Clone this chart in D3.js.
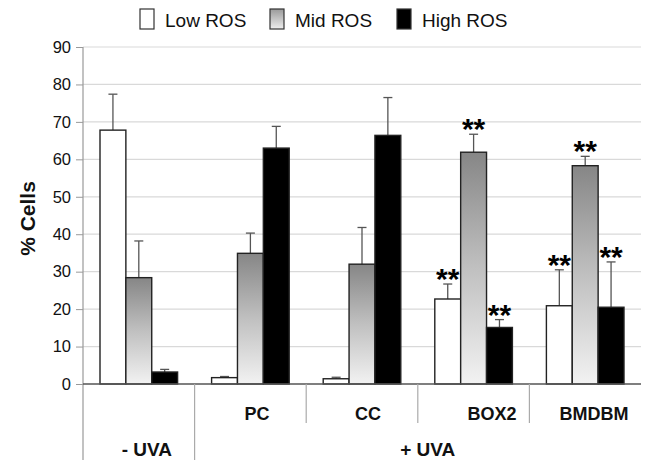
<!DOCTYPE html>
<html><head><meta charset="utf-8">
<script src="https://cdn.jsdelivr.net/npm/d3@7"></script>
<style>body{margin:0;background:#fff}svg{display:block}text{font-family:"Liberation Sans",Arial,sans-serif}</style>
</head><body>
<svg id="c" width="645" height="460"></svg>
<script>
const groups = ["-UVA","PC","CC","BOX2","BMDBM"];
const groupLabels = ["","PC","CC","BOX2","BMDBM"];
const series = ["Low ROS","Mid ROS","High ROS"];
const lowVals  = [67.8, 1.7, 1.4, 22.7, 20.9];
const midVals  = [28.4, 34.9, 32.0, 61.9, 58.3];
const highVals = [3.2, 63.0, 66.4, 15.1, 20.5];
const lowErr   = [9.6, 0.3, 0.4, 4.0, 9.6];
const midErr   = [9.8, 5.4, 9.8, 4.8, 2.5];
const highErr  = [0.7, 5.8, 10.1, 2.1, 12.1];
const lowSig   = [false,false,false,true,true];
const midSig   = [false,false,false,true,true];
const highSig  = [false,false,false,true,true];
const yTicks = [0,10,20,30,40,50,60,70,80,90];

const svg = d3.select("#c");
const mLeft=83, mRight=641, mTop=47, mBottom=384;
const y = d3.scaleLinear().domain([0,90]).range([mBottom,mTop]);
const x0 = d3.scaleBand().domain(groups).range([mLeft,mRight]).padding(0);
const bw = x0.bandwidth();
const x1 = d3.scaleBand().domain(series).range([17, bw-17]).padding(0);

const defs = svg.append("defs");
const g = defs.append("linearGradient").attr("id","mid").attr("x1",0).attr("y1",0).attr("x2",0).attr("y2",1);
g.append("stop").attr("offset","0%").attr("stop-color","#868686");
g.append("stop").attr("offset","50%").attr("stop-color","#c0c0c0");
g.append("stop").attr("offset","100%").attr("stop-color","#f2f2f2");
const gl = defs.append("linearGradient").attr("id","midLeg").attr("x1",0).attr("y1",0).attr("x2",0).attr("y2",1);
gl.append("stop").attr("offset","0%").attr("stop-color","#9a9a9a");
gl.append("stop").attr("offset","100%").attr("stop-color","#eeeeee");

// grid
svg.append("g").selectAll("line").data(yTicks.filter(d=>d>0)).join("line")
  .attr("x1",mLeft).attr("x2",mRight).attr("y1",d=>y(d)).attr("y2",d=>y(d))
  .attr("stroke","#d9d9d9").attr("stroke-width",1.2);

// y axis
const ya = svg.append("g").attr("transform",`translate(${mLeft},0)`)
  .call(d3.axisLeft(y).tickValues(yTicks).tickSize(7).tickPadding(5));
ya.select(".domain").remove();
ya.selectAll(".tick line").attr("stroke","#999");
ya.selectAll(".tick text").attr("font-size",16.5).attr("fill","#111").attr("font-family","Liberation Sans, Arial, sans-serif");
svg.append("line").attr("x1",mLeft).attr("x2",mLeft).attr("y1",mTop).attr("y2",460).attr("stroke","#999").attr("stroke-width",1.2);

// y label
svg.append("text").attr("transform",`translate(35,${(mTop+mBottom)/2+3}) rotate(-90)`)
  .attr("text-anchor","middle").attr("font-size",21).attr("font-weight","bold").attr("fill","#111").text("% Cells");

// bars
const data = [];
groups.forEach((gr,i)=>{
  [[lowVals,lowErr,lowSig],[midVals,midErr,midSig],[highVals,highErr,highSig]].forEach((arr,j)=>{
    data.push({g:gr,s:series[j],v:arr[0][i],e:arr[1][i],sig:arr[2][i],j});
  });
});
const fills = ["#ffffff","url(#mid)","#000000"];
const bg = svg.append("g");
bg.selectAll("g.err").data(data).join("g").attr("class","err").each(function(d){
  const cx = x0(d.g)+x1(d.s)+x1.bandwidth()/2;
  const s = d3.select(this);
  s.append("line").attr("x1",cx).attr("x2",cx).attr("y1",y(d.v)).attr("y2",y(d.v+d.e)).attr("stroke","#555").attr("stroke-width",1.3);
  s.append("line").attr("x1",cx-4.5).attr("x2",cx+4.5).attr("y1",y(d.v+d.e)).attr("y2",y(d.v+d.e)).attr("stroke","#555").attr("stroke-width",1.3);
});
bg.selectAll("rect").data(data).join("rect")
  .attr("x",d=>x0(d.g)+x1(d.s)).attr("width",x1.bandwidth())
  .attr("y",d=>y(d.v)).attr("height",d=>y(0)-y(d.v))
  .attr("fill",d=>fills[d.j]).attr("stroke","#222").attr("stroke-width",1.4);
bg.selectAll("text.sig").data(data.filter(d=>d.sig)).join("text").attr("class","sig")
  .attr("x",d=>x0(d.g)+x1(d.s)+x1.bandwidth()/2).attr("y",d=>y(d.v+d.e)+5)
  .attr("text-anchor","middle").attr("font-size",30).attr("font-weight","bold").attr("fill","#000").text("**");

svg.append("line").attr("x1",mLeft).attr("x2",mRight).attr("y1",mBottom).attr("y2",mBottom).attr("stroke","#555").attr("stroke-width",1.4);
groups.slice(1).forEach((gr,i)=>{
  svg.append("line").attr("x1",x0(gr)).attr("x2",x0(gr)).attr("y1",mBottom).attr("y2", i===0?460:423)
    .attr("stroke","#aaa").attr("stroke-width",1.2);
});
const labelDx = [0,6.6,6,18.4,8.8];
groups.forEach((gr,i)=>{
  svg.append("text").attr("x",x0(gr)+bw/2+labelDx[i]).attr("y",420).attr("text-anchor","middle")
    .attr("font-size",18).attr("font-weight","bold").attr("fill","#111").text(groupLabels[i]);
});
svg.append("text").attr("x",x0(groups[0])+bw/2+8).attr("y",456).attr("text-anchor","middle")
  .attr("font-size",19).attr("font-weight","bold").attr("fill","#111").text("- UVA");
svg.append("text").attr("x",(x0(groups[1])+mRight)/2+10).attr("y",456).attr("text-anchor","middle")
  .attr("font-size",19).attr("font-weight","bold").attr("fill","#111").text("+ UVA");

const legX = [140,270,397];
const legFills = ["#ffffff","url(#midLeg)","#000000"];
const lg = svg.append("g");
series.forEach((s,i)=>{
  lg.append("rect").attr("x",legX[i]).attr("y",9).attr("width",14).attr("height",20)
    .attr("fill",legFills[i]).attr("stroke","#333").attr("stroke-width",1.2);
  lg.append("text").attr("x",legX[i]+25).attr("y",27).attr("font-size",19).attr("fill","#111").text(s);
});
</script>
</body></html>
